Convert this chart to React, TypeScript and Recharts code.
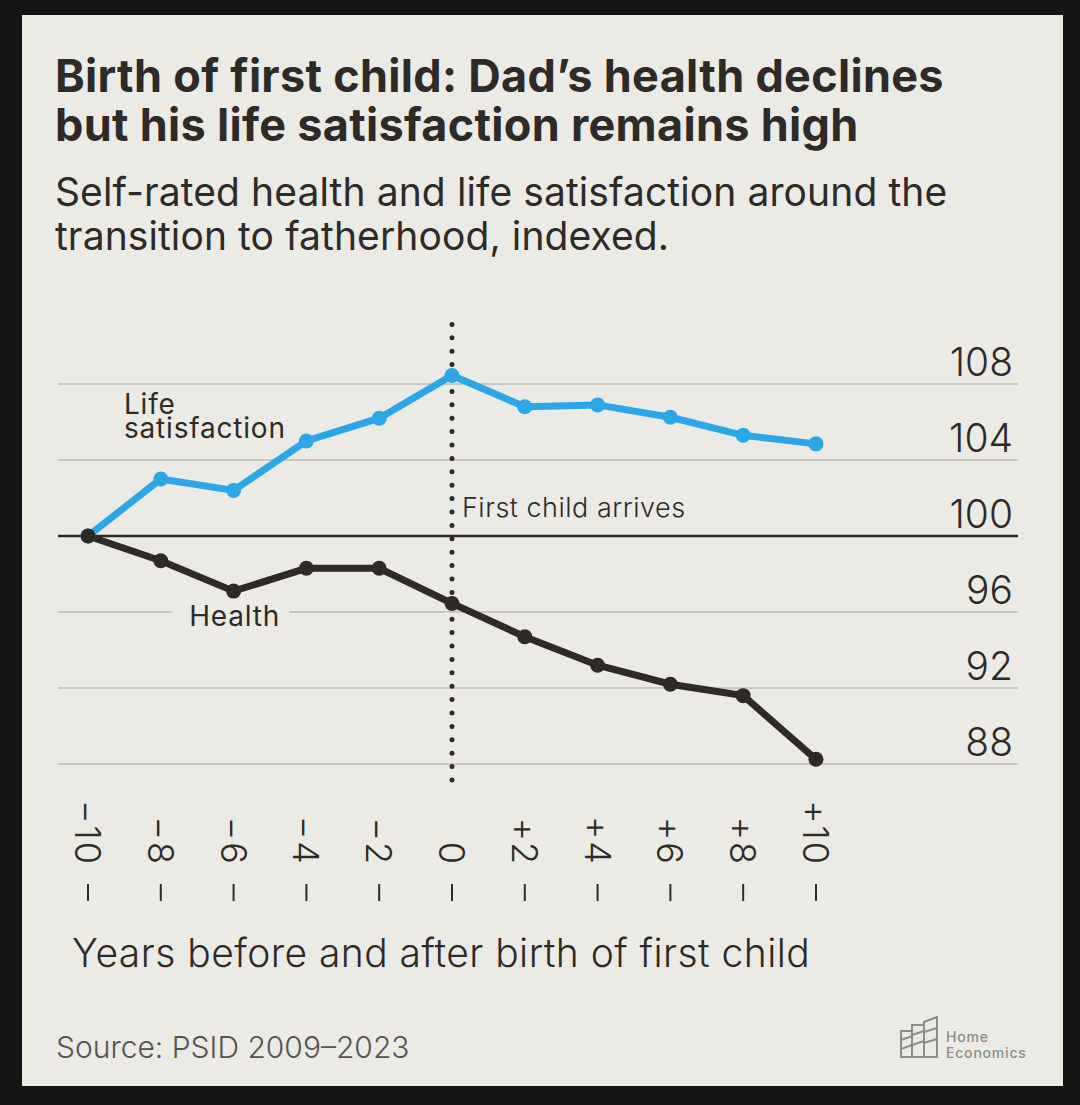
import React from "react"
import { Line, LineChart, ReferenceDot, ReferenceLine, XAxis, YAxis } from "recharts"

const years = [-10, -8, -6, -4, -2, 0, 2, 4, 6, 8, 10]
const lifeSatisfaction = [100, 103.0, 102.4, 105.0, 106.2, 108.45, 106.8, 106.9, 106.25, 105.3, 104.85]
const health = [100, 98.7, 97.1, 98.3, 98.3, 96.45, 94.7, 93.2, 92.2, 91.6, 88.25]
const yTicks = [88, 92, 96, 100, 104, 108]

const data = years.map((year, i) => ({ year, life: lifeSatisfaction[i], health: health[i] }))

const BG = "#ebeae4"
const INK = "#2e2a27"
const BLUE = "#2ba6e6"
const GRID = "#c9c7bf"
const FONT = "Inter, 'Noto Sans', sans-serif"

const fmtYear = (v: number) => (v === 0 ? "0" : v < 0 ? `\u2212${-v}` : `+${v}`)

function XTick({ x, y, payload }: any) {
  const end = y + 86
  return (
    <g>
      <text
        x={x}
        y={end}
        transform={`rotate(90 ${x} ${end})`}
        textAnchor="end"
        dy="0.36em"
        fontSize={36}
        fontWeight={300}
        letterSpacing={2}
        fill={INK}
        fontFamily={FONT}
      >
        {fmtYear(payload.value)}
      </text>
      <line x1={x} x2={x} y1={y + 104} y2={y + 121} stroke={INK} strokeWidth={2} />
    </g>
  )
}

function YTick({ x, y, payload }: any) {
  return (
    <text x={x - 5} y={y - 8} textAnchor="end" fontSize={39} fontWeight={300} fill={INK} fontFamily={FONT}>
      {payload.value}
    </text>
  )
}

export default function App() {
  return (
    <div style={{ position: "absolute", left: 0, top: 0, width: 1080, height: 1105, background: "#151515", overflow: "hidden" }}>
      <div style={{ position: "absolute", left: 22, top: 15, width: 1041, height: 1071, background: BG }} />
      <svg width={1080} height={1105} style={{ position: "absolute", left: 0, top: 0 }} fontFamily={FONT}>
        <text x={55} y={92} fontSize={45} fontWeight={700} fill={INK} letterSpacing={0.3}>
          Birth of first child: Dad’s health declines
        </text>
        <text x={55} y={141} fontSize={45} fontWeight={700} fill={INK} letterSpacing={0.3}>
          but his life satisfaction remains high
        </text>
        <text x={55} y={206} fontSize={39} fill={INK} letterSpacing={0.1}>
          Self-rated health and life satisfaction around the
        </text>
        <text x={55} y={250} fontSize={39} fill={INK} letterSpacing={0.1}>
          transition to fatherhood, indexed.
        </text>
        <text x={72} y={967} fontSize={39} fontWeight={300} fill={INK} letterSpacing={0.45}>
          Years before and after birth of first child
        </text>
        <text x={56} y={1058} fontSize={30} fontWeight={300} fill="#555350">
          Source: PSID 2009–2023
        </text>
        <g fill="none" stroke="#8d8c88" strokeWidth={2}>
          <rect x={901} y={1031} width={11} height={26} />
          <rect x={912} y={1025} width={12} height={32} />
          <path d="M924 1057 V1022 L937 1017 V1057 Z" />
          <path d="M901 1040 L912 1036 M901 1049 L912 1045 M912 1035 L924 1031 M912 1045 L924 1041 M924 1032 L937 1028 M924 1043 L937 1039" />
        </g>
        <text x={946} y={1042} fontSize={14} fontWeight={500} letterSpacing={0.8} fill="#8d8c88">Home</text>
        <text x={946} y={1058} fontSize={14} fontWeight={500} letterSpacing={0.8} fill="#8d8c88">Economics</text>
      </svg>
      <div style={{ position: "absolute", left: 0, top: 0 }}>
        <LineChart width={1080} height={1105} data={data} margin={{ top: 323, right: 61, bottom: 195, left: 58 }}>
          <XAxis
            dataKey="year"
            type="number"
            domain={[-10.824, 15.55]}
            ticks={years}
            allowDataOverflow
            axisLine={false}
            tickLine={false}
            tickSize={0}
            tickMargin={0}
            height={130}
            tick={<XTick />}
            interval={0}
          />
          <YAxis
            orientation="right"
            width={1}
            domain={[87.16, 111.21]}
            ticks={yTicks}
            allowDataOverflow
            axisLine={false}
            tickLine={false}
            tickSize={0}
            tickMargin={0}
            tick={<YTick />}
            interval={0}
          />
          {yTicks.map((t) => (
            <ReferenceLine key={t} y={t} stroke={t === 100 ? INK : GRID} strokeWidth={t === 100 ? 2.5 : 2} />
          ))}
          <ReferenceLine x={0} stroke={INK} strokeWidth={5} strokeDasharray="0 13.4" strokeLinecap="round" />
          <ReferenceDot
            x={-6}
            y={96}
            r={0}
            shape={({ cx, cy }: any) => (
              <g>
                <rect x={cx - 62} y={cy - 14} width={118} height={30} fill={BG} />
                <text x={cx + 1} y={cy + 14} textAnchor="middle" fontSize={28} letterSpacing={0.8} fill={INK} fontFamily={FONT}>
                  Health
                </text>
              </g>
            )}
          />
          <ReferenceDot
            x={-10}
            y={108}
            r={0}
            shape={({ cx, cy }: any) => (
              <g fontSize={28} letterSpacing={0.8} fill={INK} fontFamily={FONT}>
                <text x={cx + 36} y={cy + 30}>Life</text>
                <text x={cx + 36} y={cy + 54}>satisfaction</text>
              </g>
            )}
          />
          <ReferenceDot
            x={0}
            y={100}
            r={0}
            shape={({ cx, cy }: any) => (
              <text x={cx + 10} y={cy - 19} fontSize={27} fontWeight={300} letterSpacing={0.5} fill={INK} fontFamily={FONT}>
                First child arrives
              </text>
            )}
          />
          <Line
            dataKey="life"
            stroke={BLUE}
            strokeWidth={7}
            dot={{ r: 7.5, fill: BLUE, stroke: "none" }}
            isAnimationActive={false}
          />
          <Line
            dataKey="health"
            stroke={INK}
            strokeWidth={7}
            dot={{ r: 7.5, fill: INK, stroke: "none" }}
            isAnimationActive={false}
          />
        </LineChart>
      </div>
    </div>
  )
}
